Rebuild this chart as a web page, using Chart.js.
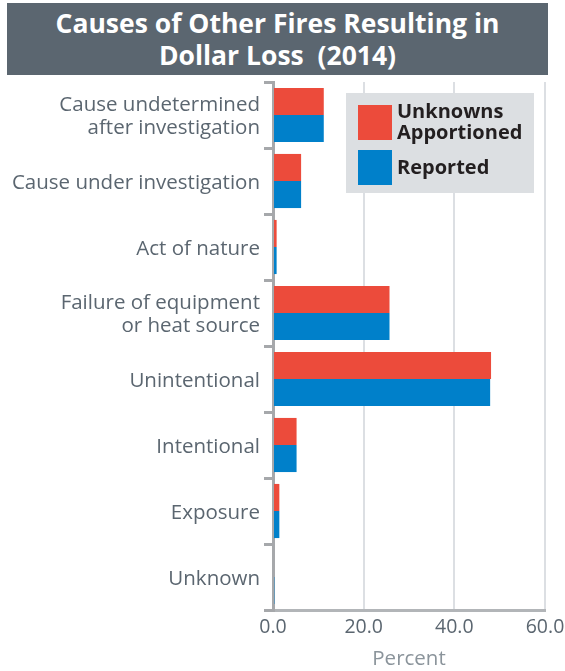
<!DOCTYPE html>
<html>
<head>
<meta charset="utf-8">
<script src="https://cdn.jsdelivr.net/npm/chart.js@4/dist/chart.umd.min.js"></script>
<style>
  html, body { margin: 0; padding: 0; background: #ffffff; }
  #wrap { position: relative; width: 565px; height: 671px; }
  #title {
    position: absolute; left: 7px; top: 3px; width: 541px; height: 72px;
    background: #5b6670; color: #ffffff;
    font-family: "Open Sans", sans-serif; font-weight: 700; font-size: 26.5px;
    line-height: 32px; text-align: center; padding-top: 4px; box-sizing: border-box;
  }
  canvas { position: absolute; left: 0; top: 0; }
</style>
</head>
<body>
<div id="wrap">
  <canvas id="causes" width="565" height="671"></canvas>
  <div id="title">Causes of Other Fires Resulting in<br>Dollar Loss&nbsp; (2014)</div>
</div>
<script>
const categories = [
  ['Cause undetermined', 'after investigation'],
  'Cause under investigation',
  'Act of nature',
  ['Failure of equipment', 'or heat source'],
  'Unintentional',
  'Intentional',
  'Exposure',
  'Unknown'
];
const seriesNames = [['Unknowns', 'Apportioned'], ['Reported']];
const apportioned = [11.2, 6.2, 0.8, 25.7, 48.1, 5.2, 1.4, 0.0];
const reported = [11.2, 6.2, 0.8, 25.7, 47.9, 5.2, 1.4, 0.3];
const xTicks = [0, 20, 40, 60];

const RED = '#ec4b3b';
const BLUE = '#0080ca';
const FONT = '"Open Sans", sans-serif';

// legend box drawn in the upper right of the plot
const legendBox = {
  id: 'legendBox',
  afterDraw(chart) {
    const ctx = chart.ctx;
    ctx.save();
    ctx.fillStyle = '#dcdfe2';
    ctx.fillRect(346, 93, 188, 100);
    ctx.font = 'bold 20px ' + FONT;
    ctx.textBaseline = 'middle';
    const rows = [{ y: 105, lines: seriesNames[0] }, { y: 150, lines: seriesNames[1] }];
    rows.forEach((r, i) => {
      ctx.fillStyle = chart.data.datasets[i].backgroundColor;
      ctx.fillRect(358, r.y, 34, 35);
      ctx.fillStyle = '#231f20';
      if (r.lines.length === 2) {
        ctx.fillText(r.lines[0], 397, r.y + 7);
        ctx.fillText(r.lines[1], 397, r.y + 28);
      } else {
        ctx.fillText(r.lines[0], 397, r.y + 18);
      }
    });
    ctx.restore();
  }
};

new Chart(document.getElementById('causes').getContext('2d'), {
  type: 'bar',
  data: {
    labels: categories,
    datasets: [
      { label: seriesNames[0].join(' '), data: apportioned, backgroundColor: RED },
      { label: seriesNames[1].join(' '), data: reported, backgroundColor: BLUE }
    ]
  },
  options: {
    indexAxis: 'y',
    responsive: false,
    animation: false,
    categoryPercentage: 0.82,
    barPercentage: 1.0,
    layout: { padding: { top: 82, right: 20, left: 0, bottom: 0 } },
    plugins: {
      legend: { display: false },
      title: { display: false },
      tooltip: { enabled: false }
    },
    scales: {
      x: {
        min: 0,
        max: 60,
        afterBuildTicks(scale) {
          scale.ticks = xTicks.map(v => ({ value: v }));
        },
        afterFit(scale) {
          scale.height = 61;
          scale.paddingLeft = 0;
          scale.paddingRight = 0;
        },
        ticks: {
          color: '#5b6670',
          font: { family: FONT, size: 19.5 },
          padding: 6,
          callback: v => Number(v).toFixed(1)
        },
        grid: { color: '#dcdfe3', lineWidth: 2, drawTicks: false },
        border: { color: '#b2b5b8', width: 3 },
        title: {
          display: true,
          text: 'Percent',
          color: '#8b949b',
          font: { family: FONT, size: 20.5 },
          padding: { top: 2, bottom: 0 }
        }
      },
      y: {
        afterFit(scale) { scale.width = 273; },
        ticks: {
          color: '#5b6670',
          font: { family: FONT, size: 20.5, lineHeight: 1.12 },
          padding: 4,
          labelOffset: 2
        },
        grid: {
          offset: true,
          drawOnChartArea: false,
          drawTicks: true,
          tickLength: 9,
          color: '#a6a8ab',
          lineWidth: 3
        },
        border: { color: '#a6a8ab', width: 3 }
      }
    }
  },
  plugins: [legendBox]
});
</script>
</body>
</html>
